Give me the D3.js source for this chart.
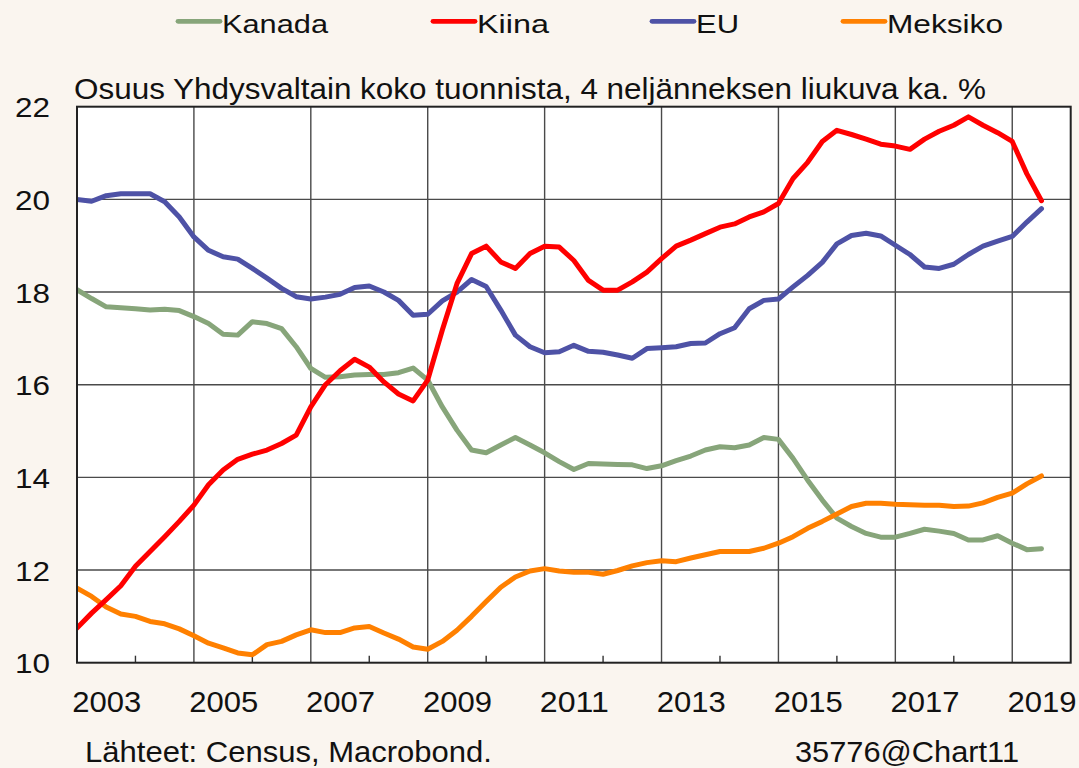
<!DOCTYPE html>
<html><head><meta charset="utf-8">
<script src="https://cdn.jsdelivr.net/npm/d3@7"></script>
<style>
html,body{margin:0;padding:0;background:#FAF5EF;}
svg{display:block;font-family:"Liberation Sans",Arial,sans-serif;}
</style></head><body>
<svg id="chart" width="1079" height="768"></svg>
<script>
// ---- data ----
const quarters = [
 "2003Q1","2003Q2","2003Q3","2003Q4","2004Q1","2004Q2","2004Q3","2004Q4",
 "2005Q1","2005Q2","2005Q3","2005Q4","2006Q1","2006Q2","2006Q3","2006Q4",
 "2007Q1","2007Q2","2007Q3","2007Q4","2008Q1","2008Q2","2008Q3","2008Q4",
 "2009Q1","2009Q2","2009Q3","2009Q4","2010Q1","2010Q2","2010Q3","2010Q4",
 "2011Q1","2011Q2","2011Q3","2011Q4","2012Q1","2012Q2","2012Q3","2012Q4",
 "2013Q1","2013Q2","2013Q3","2013Q4","2014Q1","2014Q2","2014Q3","2014Q4",
 "2015Q1","2015Q2","2015Q3","2015Q4","2016Q1","2016Q2","2016Q3","2016Q4",
 "2017Q1","2017Q2","2017Q3","2017Q4","2018Q1","2018Q2","2018Q3","2018Q4",
 "2019Q1","2019Q2","2019Q3"];
const kanada = [18.05,17.86,17.68,17.66,17.64,17.61,17.63,17.60,17.47,17.32,17.09,17.07,17.36,17.32,17.21,16.82,
 16.35,16.16,16.17,16.21,16.22,16.22,16.26,16.36,16.10,15.52,15.02,14.59,14.53,14.70,14.86,14.70,
 14.53,14.34,14.17,14.30,14.29,14.28,14.27,14.19,14.25,14.36,14.46,14.59,14.66,14.64,14.70,14.86,
 14.82,14.41,13.94,13.51,13.12,12.94,12.79,12.71,12.71,12.79,12.88,12.84,12.79,12.65,12.65,12.74,
 12.58,12.44,12.46];
const kiina = [10.75,11.07,11.36,11.66,12.08,12.40,12.72,13.05,13.40,13.84,14.16,14.39,14.50,14.59,14.73,14.91,
 15.52,16.00,16.30,16.55,16.38,16.06,15.80,15.65,16.10,17.18,18.18,18.83,18.99,18.65,18.51,18.83,
 18.99,18.97,18.68,18.25,18.04,18.04,18.22,18.43,18.72,18.99,19.12,19.26,19.40,19.47,19.62,19.73,
 19.91,20.45,20.80,21.25,21.49,21.40,21.30,21.19,21.15,21.08,21.30,21.47,21.60,21.78,21.60,21.44,
 21.25,20.55,19.97];
const eu = [20.00,19.96,20.08,20.12,20.12,20.12,19.95,19.62,19.19,18.90,18.76,18.71,18.51,18.30,18.08,17.90,
 17.85,17.89,17.95,18.10,18.13,18.00,17.82,17.50,17.52,17.81,18.00,18.27,18.12,17.61,17.07,16.82,
 16.69,16.71,16.85,16.72,16.70,16.64,16.57,16.78,16.80,16.82,16.89,16.90,17.10,17.23,17.64,17.82,
 17.85,18.11,18.36,18.64,19.04,19.22,19.27,19.21,19.01,18.81,18.54,18.51,18.60,18.81,18.99,19.10,
 19.20,19.51,19.80];
const meksiko = [11.61,11.43,11.20,11.05,11.00,10.89,10.84,10.73,10.58,10.42,10.32,10.21,10.17,10.39,10.46,10.60,
 10.71,10.65,10.65,10.75,10.78,10.64,10.51,10.34,10.29,10.46,10.70,11.00,11.32,11.63,11.85,11.98,
 12.03,11.98,11.95,11.95,11.91,11.99,12.09,12.16,12.20,12.18,12.26,12.33,12.40,12.40,12.40,12.47,
 12.58,12.72,12.90,13.05,13.21,13.37,13.44,13.44,13.42,13.41,13.40,13.40,13.37,13.38,13.45,13.57,
 13.66,13.86,14.03];
const seriesNames = ["Kanada","Kiina","EU","Meksiko"];
const yTicks = [10,12,14,16,18,20,22];
const yearLabels = ["2003","2005","2007","2009","2011","2013","2015","2017","2019"];
const gridYears = [2005,2007,2009,2011,2013,2015,2017,2019];
const minorYears = [2004,2006,2008,2010,2012,2014,2016,2018];
const titleText = "Osuus Yhdysvaltain koko tuonnista, 4 neljänneksen liukuva ka. %";
const sourceText = "Lähteet: Census, Macrobond.";
const codeText = "35776@Chart11";

// ---- styles / layout ----
const colors = {Kanada:"#87A57A", Kiina:"#FF0000", EU:"#4E52A6", Meksiko:"#FF8000"};
const values = {Kanada:kanada, Kiina:kiina, EU:eu, Meksiko:meksiko};
const drawOrder = ["Kanada","EU","Meksiko","Kiina"];
const P = {left:77, right:1070.7, top:106.7, bottom:662.7};
const legendLayout = {Kanada:{x:178,w:106}, Kiina:{x:433,w:72}, EU:{x:652,w:43}, Meksiko:{x:843,w:116}};

const svg = d3.select("#chart");
const qTime = q => +q.slice(0,4) + (+q.slice(5) - 1) / 4;

const x = d3.scaleLinear().domain([2003, 2020]).range([P.left, P.right]);
const y = d3.scaleLinear().domain([10, 22]).range([P.bottom, P.top]);

// plot background
svg.append("rect").attr("x",P.left).attr("y",P.top)
  .attr("width",P.right-P.left).attr("height",P.bottom-P.top).attr("fill","#fff");

// horizontal grid
svg.append("g").selectAll("line").data(yTicks.slice(1,-1)).join("line")
  .attr("x1",P.left).attr("x2",P.right).attr("y1",d=>y(d)).attr("y2",d=>y(d))
  .attr("stroke","#4a4a4a").attr("stroke-width",1.4);
// vertical grid
svg.append("g").selectAll("line").data(gridYears).join("line")
  .attr("x1",d=>x(d)).attr("x2",d=>x(d)).attr("y1",P.top).attr("y2",P.bottom)
  .attr("stroke","#4a4a4a").attr("stroke-width",1.4);
// minor ticks
svg.append("g").selectAll("line").data(minorYears).join("line")
  .attr("x1",d=>x(d)).attr("x2",d=>x(d)).attr("y1",P.bottom).attr("y2",P.bottom-7)
  .attr("stroke","#333").attr("stroke-width",1.4);

// lines
svg.append("clipPath").attr("id","clip").append("rect")
  .attr("x",P.left).attr("y",P.top).attr("width",P.right-P.left).attr("height",P.bottom-P.top);
const line = d3.line().x((d,i)=>x(qTime(quarters[i]))).y(d=>y(d));
const gl = svg.append("g").attr("clip-path","url(#clip)");
drawOrder.forEach(n=>{
  gl.append("path").datum(values[n]).attr("d",line)
    .attr("fill","none").attr("stroke",colors[n]).attr("stroke-width",5)
    .attr("stroke-linejoin","round").attr("stroke-linecap","round");
});

// frame
svg.append("rect").attr("x",P.left).attr("y",P.top)
  .attr("width",P.right-P.left).attr("height",P.bottom-P.top)
  .attr("fill","none").attr("stroke","#222").attr("stroke-width",2);

// y axis labels
const yAxis = d3.axisLeft(y).tickValues(yTicks).tickSize(0).tickPadding(27);
const gy = svg.append("g").attr("transform",`translate(${P.left},0)`).call(yAxis);
gy.select(".domain").remove();
gy.selectAll("text").attr("font-size",27).attr("fill","#111")
  .attr("font-family","'Liberation Sans',Arial,sans-serif")
  .attr("dy","0.37em").attr("textLength",35).attr("lengthAdjust","spacingAndGlyphs");

// x axis labels (centered mid-year)
const xAxis = d3.axisBottom(x).tickValues(yearLabels.map(s=>+s+0.5))
  .tickFormat(d=>yearLabels.find(s=>+s===Math.floor(d))).tickSize(0);
const gx = svg.append("g").attr("transform",`translate(0,${P.bottom})`).call(xAxis);
gx.select(".domain").remove();
gx.selectAll("text").attr("font-size",29).attr("fill","#111")
  .attr("font-family","'Liberation Sans',Arial,sans-serif")
  .attr("y",49.6).attr("dy",0).attr("textLength",69).attr("lengthAdjust","spacingAndGlyphs");

// title
svg.append("text").attr("x",74).attr("y",99).attr("font-size",29).attr("fill","#111")
  .attr("textLength",912).attr("lengthAdjust","spacingAndGlyphs").text(titleText);

// legend
const lg = svg.append("g");
seriesNames.forEach(n=>{
  const L = legendLayout[n];
  lg.append("line").attr("x1",L.x).attr("x2",L.x+42).attr("y1",21.3).attr("y2",21.3)
    .attr("stroke",colors[n]).attr("stroke-width",4.8).attr("stroke-linecap","round");
  lg.append("text").attr("x",L.x+44).attr("y",32.7).attr("font-size",26.5).attr("fill","#111")
    .attr("textLength",L.w).attr("lengthAdjust","spacingAndGlyphs").text(n);
});

// footer
svg.append("text").attr("x",85).attr("y",762).attr("font-size",29).attr("fill","#111")
  .attr("textLength",407).attr("lengthAdjust","spacingAndGlyphs").text(sourceText);
svg.append("text").attr("x",795).attr("y",762).attr("font-size",29).attr("fill","#111")
  .attr("textLength",224).attr("lengthAdjust","spacingAndGlyphs").text(codeText);
</script>
</body></html>
